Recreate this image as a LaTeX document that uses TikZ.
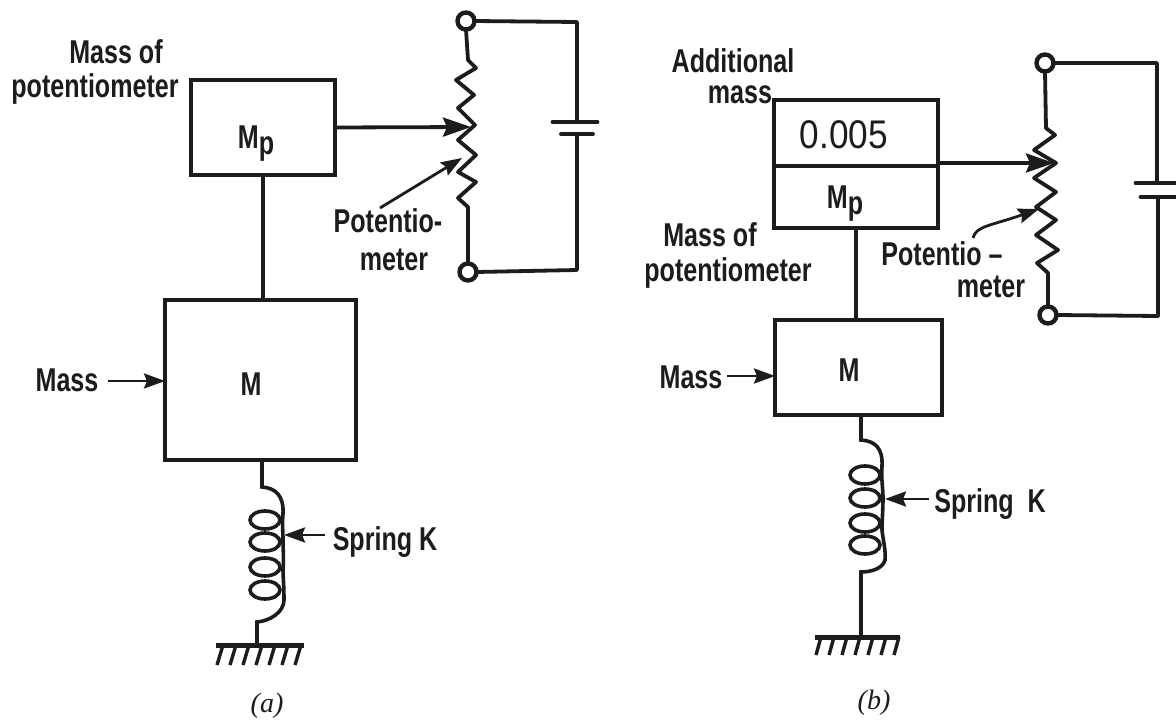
\documentclass[tikz,border=0pt]{standalone}
\usepackage{fontspec}
\usetikzlibrary{arrows.meta}
\newfontfamily\labfont[FakeStretch=0.76]{Liberation Sans Bold}
\newfontfamily\numfont[FakeStretch=0.88]{Liberation Sans}
\newfontfamily\capfont{Liberation Serif Italic}
\newcommand{\Mpsub}{M\raisebox{-6pt}{p}}
\definecolor{ink}{HTML}{1C1C1C}
\tikzset{
  x=1pt,y=-1pt,
  wire/.style={draw=ink,line width=3.8pt,line join=round,line cap=round},
  thinwire/.style={draw=ink,line width=2.8pt,line join=round,line cap=round},
  massbox/.style={draw=ink,line width=4.4pt,fill=white,inner sep=0pt,outer sep=0pt},
  term/.style={circle,draw=ink,line width=4.4pt,fill=white,minimum size=17pt,inner sep=0pt,outer sep=0pt},
  lab/.style={font=\labfont\fontsize{33}{33}\selectfont,text=ink,inner sep=0pt,outer sep=0pt,anchor=base},
  figcap/.style={font=\capfont\fontsize{28}{28}\selectfont,text=ink,inner sep=0pt,outer sep=0pt},
  point/.style={-{Stealth[length=28pt,width=19pt,inset=4pt]},wire,line cap=butt},
  smallpoint/.style={-{Stealth[length=21pt,width=15pt,inset=3pt]},thinwire,line cap=butt},
  coil/.style={draw=ink,line width=3.6pt},
  groundbar/.style={draw=ink,line width=5pt},
  hatch/.style={draw=ink,line width=3.4pt}
}
\begin{document}
\begin{tikzpicture}
\useasboundingbox (0,0) rectangle (1176,720);
\fill[white] (0,0) rectangle (1176,720);

%%%%% Panel (a)
\node[massbox,minimum width=144pt,minimum height=95pt] (mpa) at (263,127.5) {};
\node[massbox,minimum width=191pt,minimum height=160pt] (ma) at (260.5,380) {};
\node[lab] (mpatext) at (256,148) {\Mpsub};
\node[lab] (matext) at (251,395) {M};
\draw[wire] (mpa.south) -- (mpa.south |- ma.north);

\node[term] (tat) at (466,21) {};
\node[term] (tab) at (468,272) {};
\coordinate (batop) at (577,22);
\coordinate (babot) at (577,270);
\node[inner sep=0pt,outer sep=0pt,minimum width=45pt,minimum height=0pt] (bap1) at (575,122) {};
\node[inner sep=0pt,outer sep=0pt,minimum width=32pt,minimum height=0pt] (bap2) at (577,134) {};
\draw[wire] (tat.south) -- (468,60) -- (476,68) -- (456,80) -- (474,95) -- (458,108) -- (475,125) -- (458,140) -- (476,155) -- (458,172) -- (476,182) -- (458,198) -- (468,207) -- (tab.north);
\draw[wire] (tat.east) -- (batop) -- (batop |- bap1.north);
\draw[wire] (batop |- bap2.south) -- (babot) -- (tab.east);
\draw[wire] (bap1.west) -- (bap1.east);
\draw[wire] (bap2.west) -- (bap2.east);
\coordinate (wipa) at (471,127);
\draw[point] (mpa.east) -- (wipa);
\coordinate (potfa) at (380,208);
\coordinate (potta) at (462,158);
\draw[smallpoint] (potfa) -- (potta);

\node[lab] (t1) at (116,63) {Mass of};
\node[lab] (t2) at (95,97) {potentiometer};
\node[lab] (t3) at (388,232) {Potentio-};
\node[lab] (t4) at (394,270) {meter};
\node[lab] (t5) at (67,391) {Mass};
\coordinate (ma1) at (108,381);
\draw[smallpoint] (ma1) -- (ma.west |- ma1);

\coordinate (sa1) at (262,487);
\draw[coil] (ma.south -| sa1) -- (sa1) .. controls (275,488) and (284,495) .. (283,514) .. controls (282,525) and (283,530) .. (283,540) .. controls (283,550) and (284,560) .. (283,568) .. controls (283,578) and (284,585) .. (284,600) .. controls (284,612) and (270,621) .. (257,622) -- (257,645);
\foreach \yy in {520,542,567,590} \draw[coil] (265,\yy) ellipse (15pt and 9pt);
\coordinate (ga) at (257,645);
\draw[groundbar] (216,645) -- (304,645);
\foreach \xx in {223,236,249,262,275,288,301} \draw[hatch] (\xx,645) -- (\xx-6,665);
\coordinate (ska) at (325,535);
\draw[smallpoint] (ska) -- (284,535);
\node[lab] (t6) at (385,550) {Spring\ K};
\node[figcap] (capa) at (267,706) {(a)};

%%%%% Panel (b)
\node[massbox,minimum width=164pt,minimum height=128pt] (mpb) at (856,164) {};
\draw[draw=ink,line width=3.8pt] (mpb.west |- 0,166) -- (mpb.east |- 0,166);
\node[massbox,minimum width=167pt,minimum height=95pt] (mb) at (858.5,367.5) {};
\node[font=\numfont\fontsize{40}{40}\selectfont,text=ink,inner sep=0pt,anchor=base] (n1) at (844,148) {0.005};
\node[lab] (mpbtext) at (845,208) {\Mpsub};
\node[lab] (mbtext) at (849,381) {M};
\draw[wire] (mpb.south) -- (mpb.south |- mb.north);

\node[term] (tbt) at (1045,63) {};
\node[term] (tbb) at (1048,315) {};
\coordinate (bbtop) at (1157,63);
\coordinate (bbbot) at (1158,316);
\node[inner sep=0pt,outer sep=0pt,minimum width=41pt,minimum height=0pt] (bbp1) at (1156,183) {};
\node[inner sep=0pt,outer sep=0pt,minimum width=35pt,minimum height=0pt] (bbp2) at (1158,197) {};
\draw[wire] (tbt.south) -- (1046,128) -- (1055,135) -- (1034,150) -- (1056,163) -- (1034,178) -- (1056,192) -- (1036,207) -- (1056,220) -- (1036,235) -- (1058,250) -- (1037,263) -- (1048,273) -- (tbb.north);
\draw[wire] (tbt.east) -- (bbtop) -- (bbtop |- bbp1.north);
\draw[wire] (bbbot |- bbp2.south) -- (bbbot) -- (tbb.east);
\draw[wire] (bbp1.west) -- (bbp1.east);
\draw[wire] (bbp2.west) -- (bbp2.east);
\coordinate (wipb) at (1054,163);
\draw[point] (mpb.east |- wipb) -- (wipb);
\coordinate (potfb) at (973,238);
\coordinate (pottb) at (1039,209);
\draw[smallpoint] (potfb) .. controls (976,226) and (990,226) .. (pottb);

\node[lab] (u1) at (733,72) {Additional};
\node[lab] (u2) at (740,103) {mass};
\node[lab] (u3) at (710,246) {Mass of};
\node[lab] (u4) at (728,281) {potentiometer};
\node[lab] (u5) at (942,265) {Potentio\ –};
\node[lab] (u6) at (991,297) {meter};
\node[lab] (u7) at (691,388) {Mass};
\coordinate (mb1) at (727,376);
\draw[smallpoint] (mb1) -- (mb.west |- mb1);

\coordinate (sb1) at (861,440);
\draw[coil] (mb.south -| sb1) -- (sb1) .. controls (875,441) and (883,448) .. (882,466) .. controls (881,478) and (883,488) .. (883,498) .. controls (883,510) and (882,520) .. (882,530) .. controls (883,540) and (886,550) .. (885,560) .. controls (883,568) and (872,572) .. (861,572) -- (861,635);
\foreach \yy in {475,498,523,545} \draw[coil] (865,\yy) ellipse (15pt and 9pt);
\draw[groundbar] (815,637) -- (900,637);
\foreach \xx in {821,834,847,860,873,886,899} \draw[hatch] (\xx,637) -- (\xx-5,655);
\coordinate (skb) at (929,499);
\draw[smallpoint] (skb) -- (885,499);
\node[lab] (u8) at (990,512) {Spring\ \ K};
\node[figcap] (capb) at (874,703) {(b)};
\end{tikzpicture}
\end{document}
